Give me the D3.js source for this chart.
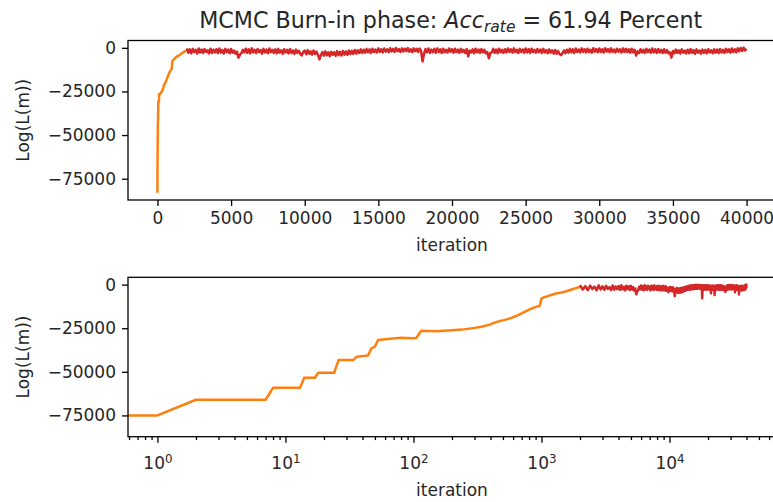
<!DOCTYPE html>
<html>
<head>
<meta charset="utf-8">
<script src="https://cdn.jsdelivr.net/npm/d3@7"></script>
<style>
  html, body { margin: 0; padding: 0; background: #fff; }
  svg { display: block; font-family: "DejaVu Sans", sans-serif; }
</style>
</head>
<body>
<svg id="chart" width="773" height="502"></svg>
<script>
// ---------------- data ----------------
const titleMain = "MCMC Burn-in phase: ";
const titleAcc = "Acc";
const titleSub = "rate";
const titleRest = " = 61.94 Percent";
const yLabel = "Log(L(m))";
const xLabel = "iteration";

const yTicks = [0, -25000, -50000, -75000];
const xTicksTop = [0, 5000, 10000, 15000, 20000, 25000, 30000, 35000, 40000];
const xTicksLog = [1, 10, 100, 1000, 10000];
const xTickLogExp = ["0", "1", "2", "3", "4"];

// burn-in phase (orange)
const iterOrange = [0, 1, 2, 7, 8, 13, 14, 17, 18, 24, 26, 34, 36, 44, 47, 50, 53, 63, 80, 100,
  105, 115, 150, 200, 240, 300, 340, 400, 430, 470, 500, 560, 620, 700, 780, 850, 920, 970, 1000, 1050,
  1120, 1200, 1300, 1400, 1500, 1600, 1700, 1800, 1900, 2000];
const llOrange = [-83000, -75000, -66000, -66000, -59200, -59200, -53400, -53400, -50600, -50600,
  -43200, -43200, -41300, -40700, -36500, -35500, -31700, -31200, -30500, -30800,
  -30600, -26500, -26700, -26200, -25800, -24800, -24200, -22800, -21800, -20900,
  -20500, -19500, -18300, -16500, -14800, -13500, -12600, -12100, -8000, -7200,
  -6600, -5800, -5100, -4600, -4200, -3500, -2900, -2300, -1800, -1400];

// post burn-in (red), sampled every 100 iterations from 2000 to 40000
const redStart = 2000, redStep = 100;
const llRed = [
  -300, -2800, -900, -3100, -600, -2500, -1200, -3300, -400, -2700, -1000, -3000, -700, -2400, -1400, -3200, -500, -2900, -1100, -2600,
  -800, -3000, -400, -2700, -1300, -3300, -600, -2500, -1000, -3100, -700, -2800, -1500, -3400, -2200, -5600, -4000, -3000, -1200, -2600,
  -500, -2900, -900, -3200, -300, -2600, -1100, -3000, -700, -2400, -1300, -3300, -600, -2700, -1000, -3100, -400, -2500, -1200, -2900,
  -900, -3100, -600, -2800, -1400, -3400, -800, -2600, -1100, -3200, -700, -3000, -1500, -3500, -1000, -2900, -1700, -3600, -4300, -2400,
  -1600, -3700, -1300, -3400, -2000, -3900, -1500, -3600, -2200, -4100, -6600, -4200, -2400, -4500, -2000, -4300, -2600, -4800, -2200, -4000,
  -2500, -4600, -1900, -4200, -2300, -4400, -1800, -3900, -2100, -4000, -1500, -3600, -1700, -3500, -1200, -3300, -1400, -3000, -900, -2900,
  -1100, -2800, -600, -2600, -900, -3000, -500, -2400, -1000, -2700, -300, -2300, -800, -2600, -400, -2200, -900, -2500, -200, -2100,
  -600, -2300, -100, -2000, -700, -2400, -300, -2100, -500, -1900, -200, -2200, -800, -2500, -300, -2000, -600, -2300, -400, -1800,
  -7800, -3600, -700, -2600, -400, -2900, -1000, -2500, -600, -2800, -300, -2400, -900, -3000, -500, -2600, -1100, -2700, -400, -2300,
  -800, -2800, -500, -2500, -1000, -2900, -600, -2400, -1200, -3000, -700, -4900, -1500, -2700, -900, -3100, -500, -2600, -1000, -2900,
  -700, -2700, -1100, -3200, -2400, -6000, -3000, -2600, -600, -2800, -1000, -3100, -500, -2500, -1200, -2900, -800, -2600, -400, -2400,
  -900, -2700, -300, -2500, -1100, -3000, -600, -2300, -1000, -2800, -400, -2600, -800, -2900, -500, -2400, -1200, -2800, -700, -2500,
  -1000, -3000, -600, -2700, -1300, -3100, -900, -2800, -1400, -3300, -1200, -3400, -1800, -3500, -4200, -3200, -1500, -3100, -1100, -2800,
  -600, -2600, -900, -2900, -400, -2400, -1000, -2700, -300, -2300, -800, -2600, -500, -2500, -1100, -2800, -200, -2200, -700, -2500,
  -400, -2400, -900, -2700, -200, -2100, -700, -2500, -300, -2300, -1000, -2600, -500, -2200, -800, -2700, -300, -2400, -600, -2500,
  -900, -2800, -500, -2600, -1100, -4400, -2000, -3000, -800, -2700, -1200, -2900, -600, -2500, -1000, -2800, -400, -2600, -900, -2900,
  -700, -2700, -1200, -3000, -800, -2800, -1300, -3200, -2600, -5600, -1800, -3100, -1000, -2900, -1400, -3300, -900, -2800, -1500, -3200,
  -1100, -3100, -700, -2900, -1300, -3400, -900, -2800, -1500, -3300, -1000, -3000, -1200, -3200, -800, -2700, -1400, -3100, -900, -2800,
  -1000, -3000, -700, -2700, -1200, -2900, -600, -2500, -900, -2800, -400, -2400, -800, -2600, -300, -2000, -100, -1800, 100, -1500,
  -600];
const iterRed = llRed.map((_, i) => redStart + i * redStep);

const orangeData = iterOrange.map((x, i) => ({x, y: llOrange[i]}));
const redData = iterRed.map((x, i) => ({x, y: llRed[i]}));

// ---------------- layout ----------------
const W = 773, H = 502;
const FS = 17;           // tick / label font size
const TICK = 6, MINOR = 3.4, PAD = 6;
const axL = 128, axR = 776;
const topAx = {top: 40.5, bottom: 200};
const botAx = {top: 277.3, bottom: 436.7};
const orange = "#ff7f0e", red = "#d62728";
const txt = "#262626";

const svg = d3.select("#chart");
svg.append("rect").attr("width", W).attr("height", H).attr("fill", "#fff");

const yDomain = [-87200, 4200];
const yTop = d3.scaleLinear().domain(yDomain).range([topAx.bottom, topAx.top]);
const yBot = d3.scaleLinear().domain(yDomain).range([botAx.bottom, botAx.top]);
const xTop = d3.scaleLinear().domain([-2000, 42000]).range([axL, axR]);
const xLog = d3.scaleLog().domain([Math.pow(10, -0.23), Math.pow(10, 4.832)]).range([axL, axR]);

const defs = svg.append("defs");
function clip(id, ax) {
  defs.append("clipPath").attr("id", id).append("rect")
    .attr("x", axL).attr("y", ax.top).attr("width", axR - axL).attr("height", ax.bottom - ax.top);
}
clip("clipTop", topAx);
clip("clipBot", botAx);

const fmt = d3.format("d");

function styleAxis(g) {
  g.select(".domain").remove();
  g.selectAll(".tick line").attr("stroke", "#000").attr("stroke-width", 1.3);
  g.selectAll(".tick text").attr("fill", txt).attr("font-size", FS)
    .attr("font-family", "DejaVu Sans");
}

// ---------- top panel ----------
const gT = svg.append("g");
const lineTop = d3.line().x(d => xTop(d.x)).y(d => yTop(d.y));
const dataT = gT.append("g").attr("clip-path", "url(#clipTop)");
dataT.append("path").datum(orangeData).attr("d", lineTop)
  .attr("fill", "none").attr("stroke", orange).attr("stroke-width", 2.5).attr("stroke-linejoin", "round");
dataT.append("path").datum(redData).attr("d", lineTop)
  .attr("fill", "none").attr("stroke", red).attr("stroke-width", 2.5).attr("stroke-linejoin", "round");

gT.append("g").attr("transform", `translate(0,${topAx.bottom})`)
  .call(d3.axisBottom(xTop).tickValues(xTicksTop).tickFormat(fmt).tickSize(TICK).tickPadding(PAD))
  .call(styleAxis);
gT.append("g").attr("transform", `translate(${axL},0)`)
  .call(d3.axisLeft(yTop).tickValues(yTicks).tickFormat(fmt).tickSize(TICK).tickPadding(PAD))
  .call(styleAxis);
gT.append("rect").attr("x", axL).attr("y", topAx.top).attr("width", axR - axL)
  .attr("height", topAx.bottom - topAx.top).attr("fill", "none").attr("stroke", "#000").attr("stroke-width", 1.3);

// title
const title = svg.append("text").attr("x", 450.7).attr("y", 28.3)
  .attr("text-anchor", "middle").attr("font-size", 22.2).attr("fill", txt);
title.append("tspan").text(titleMain);
title.append("tspan").attr("font-style", "italic").text(titleAcc);
title.append("tspan").attr("font-style", "italic").attr("font-size", 15.5).attr("dy", 3.6).text(titleSub);
title.append("tspan").attr("dy", -3.6).text(titleRest);

// labels
svg.append("text").attr("x", (axL + axR) / 2).attr("y", 251).attr("text-anchor", "middle")
  .attr("font-size", FS).attr("fill", txt).text(xLabel);
svg.append("text").attr("transform", `translate(29,${(topAx.top + topAx.bottom) / 2}) rotate(-90)`)
  .attr("text-anchor", "middle").attr("font-size", FS).attr("fill", txt).text(yLabel);

// ---------- bottom panel ----------
const gB = svg.append("g");
const lineBot = d3.line().x(d => xLog(Math.max(d.x, 1e-100))).y(d => yBot(d.y));
const dataB = gB.append("g").attr("clip-path", "url(#clipBot)");
dataB.append("path").datum(orangeData).attr("d", lineBot)
  .attr("fill", "none").attr("stroke", orange).attr("stroke-width", 2.5).attr("stroke-linejoin", "round");
dataB.append("path").datum(redData).attr("d", lineBot)
  .attr("fill", "none").attr("stroke", red).attr("stroke-width", 2.5).attr("stroke-linejoin", "round");

const minorTicks = xLog.ticks().filter(v => xTicksLog.indexOf(v) < 0);
gB.append("g").attr("transform", `translate(0,${botAx.bottom})`)
  .call(d3.axisBottom(xLog).tickValues(minorTicks).tickFormat("").tickSize(MINOR))
  .call(styleAxis);
const majorAx = gB.append("g").attr("transform", `translate(0,${botAx.bottom})`)
  .call(d3.axisBottom(xLog).tickValues(xTicksLog).tickFormat("").tickSize(TICK).tickPadding(PAD))
  .call(styleAxis);
majorAx.selectAll(".tick").each(function(d, i) {
  const t = d3.select(this).select("text");
  t.attr("y", null).attr("dy", null).attr("transform", "translate(0,32.6)")
    .attr("text-anchor", "middle").attr("fill", txt);
  t.append("tspan").attr("font-size", FS).text("10");
  t.append("tspan").attr("font-size", 11.9).attr("dy", -6.6).text(xTickLogExp[i]);
});
gB.append("g").attr("transform", `translate(${axL},0)`)
  .call(d3.axisLeft(yBot).tickValues(yTicks).tickFormat(fmt).tickSize(TICK).tickPadding(PAD))
  .call(styleAxis);
gB.append("rect").attr("x", axL).attr("y", botAx.top).attr("width", axR - axL)
  .attr("height", botAx.bottom - botAx.top).attr("fill", "none").attr("stroke", "#000").attr("stroke-width", 1.3);

svg.append("text").attr("x", (axL + axR) / 2).attr("y", 496).attr("text-anchor", "middle")
  .attr("font-size", FS).attr("fill", txt).text(xLabel);
svg.append("text").attr("transform", `translate(29,${(botAx.top + botAx.bottom) / 2}) rotate(-90)`)
  .attr("text-anchor", "middle").attr("font-size", FS).attr("fill", txt).text(yLabel);
</script>
</body>
</html>
